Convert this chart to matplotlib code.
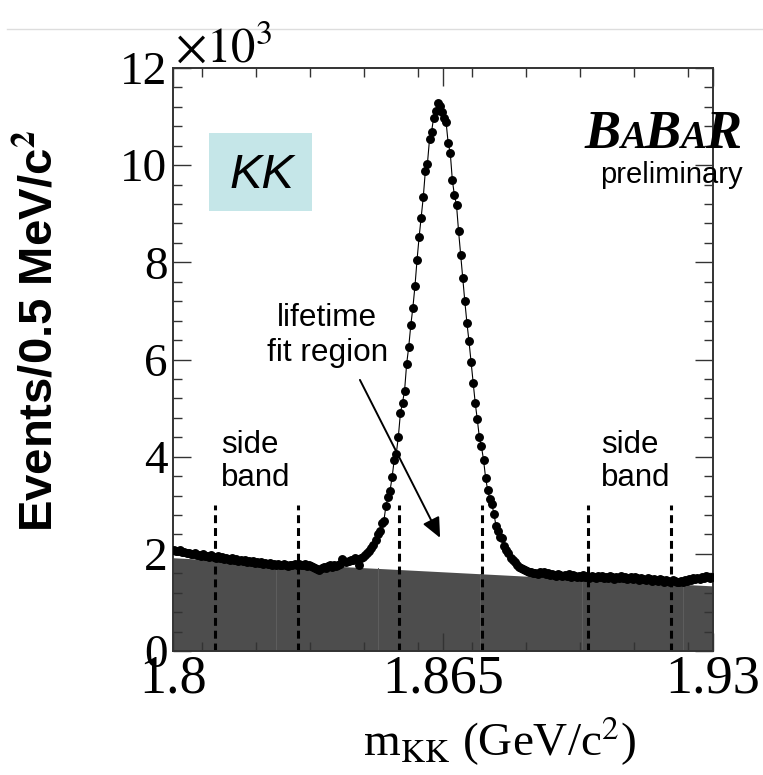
import numpy as np
import matplotlib
matplotlib.use('Agg')
import matplotlib.pyplot as plt
from matplotlib import font_manager
from matplotlib.patches import Rectangle
from matplotlib.lines import Line2D
from matplotlib.ticker import MultipleLocator

# m(KK) histogram, 0.5 MeV bins from 1.80 to 1.93 GeV, counts in units of 10^3
bin_lo = 1.80
bin_w = 0.0005
counts = [
    2.08, 2.06, 2.05, 2.07, 2.03, 2.04, 2.01, 2.02, 2.00, 1.99,
    2.01, 1.97, 1.98, 1.96, 1.99, 1.95, 1.96, 1.93, 1.97, 1.94,
    1.92, 1.95, 1.91, 1.93, 1.89, 1.92, 1.90, 1.88, 1.91, 1.87,
    1.89, 1.86, 1.88, 1.85, 1.87, 1.84, 1.86, 1.83, 1.85, 1.82,
    1.84, 1.81, 1.83, 1.80, 1.82, 1.79, 1.81, 1.78, 1.80, 1.77,
    1.79, 1.76, 1.78, 1.80, 1.77, 1.75, 1.78, 1.76, 1.79, 1.77,
    1.80, 1.78, 1.76, 1.79, 1.75, 1.77, 1.74, 1.72, 1.70, 1.68,
    1.67, 1.70, 1.73, 1.71, 1.74, 1.76, 1.73, 1.77, 1.75, 1.78,
    1.80, 1.89, 1.86, 1.84, 1.85, 1.87, 1.88, 1.91, 1.90, 1.76,
    1.91, 1.94, 1.97, 2.02, 2.06, 2.11, 2.18, 2.28, 2.41, 2.47,
    2.64, 2.67, 2.98, 3.18, 3.30, 3.58, 3.93, 4.06, 4.41, 4.90,
    5.11, 5.36, 5.91, 6.26, 6.71, 7.07, 7.51, 8.05, 8.52, 8.92,
    9.34, 9.88, 10.03, 10.53, 10.69, 10.98, 11.12, 11.28, 11.22, 11.10,
    10.98, 10.88, 10.45, 10.25, 9.69, 9.38, 9.18, 8.64, 8.15, 7.68,
    7.20, 6.76, 6.38, 5.95, 5.52, 5.11, 4.77, 4.40, 4.21, 3.94,
    3.57, 3.31, 3.13, 3.02, 2.83, 2.58, 2.47, 2.35, 2.32, 2.16,
    2.08, 2.02, 1.91, 1.87, 1.84, 1.78, 1.72, 1.70, 1.68, 1.66,
    1.64, 1.62, 1.63, 1.60, 1.61, 1.59, 1.62, 1.60, 1.63, 1.58,
    1.60, 1.56, 1.59, 1.57, 1.55, 1.58, 1.56, 1.54, 1.57, 1.55,
    1.58, 1.53, 1.56, 1.54, 1.52, 1.55, 1.53, 1.56, 1.52, 1.54,
    1.51, 1.55, 1.53, 1.50, 1.54, 1.52, 1.55, 1.51, 1.53, 1.50,
    1.54, 1.52, 1.49, 1.53, 1.51, 1.54, 1.50, 1.52, 1.48, 1.51,
    1.53, 1.49, 1.52, 1.50, 1.47, 1.51, 1.49, 1.46, 1.50, 1.48,
    1.45, 1.49, 1.47, 1.44, 1.48, 1.46, 1.43, 1.47, 1.45, 1.42,
    1.46, 1.44, 1.43, 1.41, 1.45, 1.43, 1.47, 1.45, 1.49, 1.46,
    1.50, 1.48, 1.51, 1.49, 1.53, 1.50, 1.55, 1.52, 1.50, 1.53,
]
mass = bin_lo + bin_w * (np.arange(len(counts)) + 0.5)

# background component (linear), value at each end of the range
bkg_x = [1.80, 1.93]
bkg_y = [1.92, 1.34]
seams = [1.8248, 1.8494, 1.8739, 1.8985, 1.9228]

# region boundaries
sideband_lo = [1.810, 1.830]
signal_win = [1.8545, 1.8745]
sideband_hi = [1.900, 1.920]

W, H = 763, 775
fig = plt.figure(figsize=(W / 100, H / 100), dpi=100)
ax = fig.add_axes([173 / W, 1 - 651 / H, 540 / W, 583 / H])

names = {f.name for f in font_manager.fontManager.ttflist}
narrow = 'Liberation Sans Narrow' if 'Liberation Sans Narrow' in names else 'Liberation Sans'
plt.rcParams['mathtext.fontset'] = 'stix'

ax.fill_between(bkg_x, 0, bkg_y, color='#4d4d4d', lw=0, zorder=1)
for s in seams:
    yb = np.interp(s, bkg_x, bkg_y)
    ax.plot([s, s], [0, yb], color='#5e5e5e', lw=0.7, zorder=1.1)

for xd in sideband_lo + signal_win + sideband_hi:
    ax.plot([xd, xd], [0, 3.0], color='black', lw=2.2, ls=(0, (2.6, 1.6)), zorder=2)

ax.plot(mass, counts, color='black', lw=0.8, zorder=3)
ax.plot(mass, counts, 'o', color='black', ms=5.4, zorder=4)

ax.set_xlim(1.80, 1.93)
ax.set_ylim(0, 12)
ax.set_xticks([1.80, 1.865, 1.93])
ax.set_xticklabels(['1.8', '1.865', '1.93'])
ax.xaxis.set_minor_locator(MultipleLocator(0.013))
ax.set_yticks(range(0, 13, 2))
ax.yaxis.set_minor_locator(MultipleLocator(0.4))
ax.tick_params(which='both', direction='in', top=True, right=True, color='#333333', width=1)
ax.tick_params(which='major', length=13)
ax.tick_params(which='minor', length=6.5)
ax.tick_params(axis='x', pad=2, labelsize=39)
ax.tick_params(axis='y', pad=4, labelsize=34)
for lab in ax.get_xticklabels() + ax.get_yticklabels():
    lab.set_family('Liberation Serif')
for sp in ax.spines.values():
    sp.set_color('#333333')
    sp.set_linewidth(1.4)

# annotations
ax.text(1.8116, 3.90, 'side\nband', ha='left', va='center', fontsize=22.5,
        family='Liberation Sans', linespacing=1.15)
ax.text(1.9030, 3.90, 'side\nband', ha='left', va='center', fontsize=22.5,
        family='Liberation Sans', linespacing=1.15)
ax.text(1.8371, 6.50, 'lifetime\nfit region', ha='center', va='center', fontsize=22.7,
        family='Liberation Sans', linespacing=1.2)
ax.annotate('', xy=(1.8643, 2.33), xytext=(1.8450, 5.58),
            arrowprops=dict(arrowstyle='-|>,head_length=0.55,head_width=0.25', lw=1.4,
                            color='black', mutation_scale=22, shrinkA=0, shrinkB=0))

# figure-level decorations
fig.add_artist(Line2D([7 / W, 1], [1 - 29 / H, 1 - 29 / H], color='#dddddd', lw=1))
fig.text(175 / W, 1 - 62 / H, r'$\times10^{3}$', fontsize=35, ha='left', va='baseline')
fig.text(40 / W, 1 - 331 / H, 'Events/0.5 MeV/c$^{\\mathbf{2}}$', rotation=90, ha='center', va='center',
         fontsize=34 if narrow == 'Liberation Sans' else 41, family=narrow, weight='bold')
fig.text(500 / W, 1 - 756 / H, r'm$_{\rm KK}$ (GeV/c$^{2}$)', ha='center', va='baseline',
         fontsize=34, family='Liberation Serif')

fig.add_artist(Rectangle((209 / W, 1 - 211 / H), 103 / W, 78 / H, transform=fig.transFigure,
                         facecolor='#c5e6e8', edgecolor='none'))
fig.text(262 / W, 1 - 175 / H, 'KK', ha='center', va='center', fontsize=35,
         family='Liberation Sans', style='italic')

renderer = fig.canvas.get_renderer()
xpos = 585
for ch, sz in [('B', 39), ('A', 28), ('B', 39), ('A', 28), ('R', 39)]:
    t = fig.text(xpos / W, 1 - 148 / H, ch, fontsize=sz, family='Liberation Serif',
                 weight='bold', style='italic', ha='left', va='baseline')
    xpos = t.get_window_extent(renderer).x1 - 1
fig.text(743 / W, 1 - 175 / H, 'preliminary', ha='right', va='center', fontsize=21,
         family='Liberation Sans')

fig.savefig('out.png', dpi=100)
